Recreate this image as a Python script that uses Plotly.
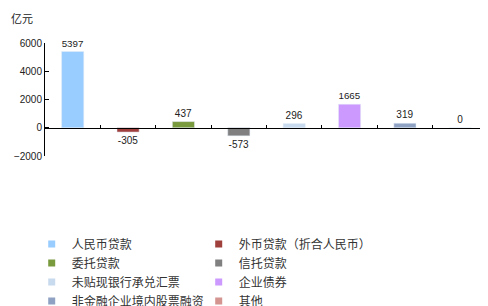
import plotly.graph_objects as go

categories = ["人民币贷款", "外币贷款（折合人民币）", "委托贷款", "信托贷款",
              "未贴现银行承兑汇票", "企业债券", "非金融企业境内股票融资", "其他"]
values = [5397, -305, 437, -573, 296, 1665, 319, 0]
colors = ["#99CCFF", "#A0403D", "#7A9A3E", "#808080",
          "#C8DAEE", "#CC99FF", "#8FA2C4", "#D4948F"]
y_ticks = [-2000, 0, 2000, 4000, 6000]

fig = go.Figure()
fig.add_trace(go.Bar(
    x=categories, y=values, marker_color=colors, width=0.4,
    text=[str(v) for v in values], textposition="outside",
    textfont=dict(size=10, color="#222", family="Liberation Sans"),
    cliponaxis=False, showlegend=False,
))
for c, col in zip(categories, colors):
    fig.add_trace(go.Scatter(
        x=[None], y=[None], mode="markers", name=c,
        marker=dict(symbol="square", size=7, color=col),
    ))

fig.update_layout(
    width=480, height=298,
    margin=dict(l=37, r=0, t=35, b=149.6, autoexpand=False),
    plot_bgcolor="white", paper_bgcolor="white",
    font=dict(family="Liberation Sans, Noto Sans CJK SC", color="#333"),
    bargap=0.6,
    xaxis=dict(
        type="category", showticklabels=False, showgrid=False, zeroline=False,
        showline=True, linecolor="black", linewidth=1,
        ticks="inside", ticklen=3, tickcolor="black", tickson="boundaries",
        anchor="free", position=0.25,
    ),
    yaxis=dict(
        range=[-2000, 6000], tickvals=y_ticks, showgrid=False, zeroline=False,
        showline=True, linecolor="black", linewidth=1,
        ticks="inside", ticklen=4, tickcolor="black",
        tickfont=dict(size=10, color="#222"),
    ),
    legend=dict(
        orientation="h", x=-0.03, xanchor="left", y=-0.65, yanchor="top",
        entrywidth=122, entrywidthmode="pixels",
        font=dict(size=12, family="Noto Sans CJK SC", color="#333"),
        bgcolor="rgba(0,0,0,0)", tracegroupgap=0,
    ),
    annotations=[dict(
        text="亿元", xref="paper", yref="paper", x=-0.052, y=1.22,
        xanchor="center", yanchor="middle", showarrow=False,
        font=dict(size=11, family="Noto Sans CJK SC", color="#222"),
    )],
)

fig.write_html("out.html")
